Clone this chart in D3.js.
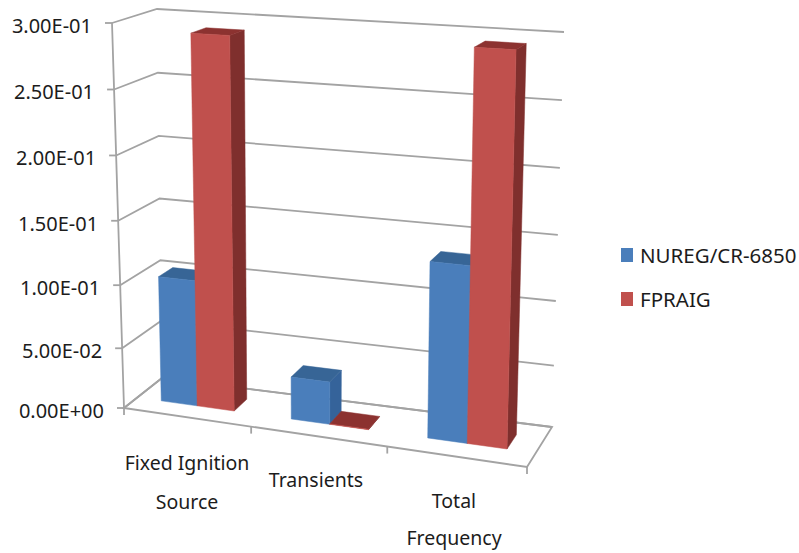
<!DOCTYPE html>
<html>
<head>
<meta charset="utf-8">
<script src="https://cdnjs.cloudflare.com/ajax/libs/d3/7.8.5/d3.min.js"></script>
<style>
  html, body { margin: 0; padding: 0; background: #fff; }
  text { font-family: "Noto Sans", "Open Sans", sans-serif; fill: #1c1c1c; }
</style>
</head>
<body>
<svg id="chart" width="799" height="553"></svg>
<script>
// Chart values
const categories = ["Fixed Ignition Source", "Transients", "Total Frequency"];
const seriesNames = ["NUREG/CR-6850", "FPRAIG"];
const nuregValues = [0.102, 0.035, 0.136];
const fpraigValues = [0.2915, 0.0004, 0.294];
const valueTicks = [0, 0.05, 0.10, 0.15, 0.20, 0.25, 0.30];
const tickLabels = ["0.00E+00", "5.00E-02", "1.00E-01", "1.50E-01", "2.00E-01", "2.50E-01", "3.00E-01"];
const categoryLines = [["Fixed Ignition", "Source"], ["Transients"], ["Total", "Frequency"]];

const seriesValues = [nuregValues, fpraigValues];
const seriesColors = [
  { front: "#4a7ebb", side: "#35639a", top: "#376596" },
  { front: "#c0504d", side: "#7f2f2d", top: "#8c3230" }
];
const gridColor = "#a3a3a3";

const svg = d3.select("#chart");

// Corners of the 3D plot box on screen (front/back, left/right, floor/ceiling)
const box = {
  floor: { fl: [124, 408], fr: [527, 467], bl: [162, 378], br: [552, 427] },
  ceil:  { fl: [112, 23],  fr: [537, 49],  bl: [157, 9],   br: [564, 32] }
};

// Data-to-box scales: both the height and the category run show slight perspective
const heightScale = d3.scalePow().exponent(1.04).domain([0, 0.3]).range([0, 1]);
const acrossScale = d3.scalePow().exponent(1.05).domain([0, 1]).range([0, 1]);
const categoryBand = d3.scaleBand().domain(d3.range(categories.length)).range([0, 1])
  .paddingInner(0.43).paddingOuter(0.205);
const seriesBand = d3.scaleBand().domain(d3.range(seriesNames.length)).range([0, categoryBand.bandwidth()]);
const depthFront = 0.35, depthBack = 0.71;

const lerp = (a, b, t) => [a[0] + (b[0] - a[0]) * t, a[1] + (b[1] - a[1]) * t];

// Trilinear projection: u across categories, w into the depth, h up the value axis
function project(u, w, h) {
  const a = acrossScale(u);
  const floorPt = lerp(lerp(box.floor.fl, box.floor.fr, a), lerp(box.floor.bl, box.floor.br, a), w);
  const ceilPt = lerp(lerp(box.ceil.fl, box.ceil.fr, a), lerp(box.ceil.bl, box.ceil.br, a), w);
  return lerp(floorPt, ceilPt, h);
}

const path = d3.line();
const polygon = pts => path(pts) + "Z";

// Gridlines along the side wall and back wall
const grid = svg.append("g").attr("fill", "none").attr("stroke", gridColor).attr("stroke-width", 1.8);
valueTicks.forEach(v => {
  const h = heightScale(v);
  grid.append("path").attr("d", path([project(0, 0, h), project(0, 1, h), project(1, 1, h)]));
  const p = project(0, 0, h);
  grid.append("path").attr("d", path([[p[0] - 7, p[1]], p]));
});

// Value axis, floor edges and category ticks
grid.append("path").attr("d", path([project(0, 0, 0), project(0, 0, 1)]));
grid.append("path").attr("d", polygon([project(0, 0, 0), project(1, 0, 0), project(1, 1, 0), project(0, 1, 0)]));
d3.range(categories.length + 1).forEach(i => {
  const p = project(i / categories.length, 0, 0);
  grid.append("path").attr("d", path([p, [p[0], p[1] + 7]]));
});

// Bars: side and top faces first, front face over them
const bars = svg.append("g");
categories.forEach((_, c) => {
  seriesNames.forEach((_, s) => {
    const u0 = categoryBand(c) + seriesBand(s);
    const u1 = u0 + seriesBand.bandwidth();
    const h = heightScale(seriesValues[s][c]);
    const col = seriesColors[s];
    const face = (pts, fill) => bars.append("path").attr("d", polygon(pts))
      .attr("fill", fill).attr("stroke", fill).attr("stroke-width", 0.5);
    face([project(u1, depthFront, 0), project(u1, depthBack, 0), project(u1, depthBack, h), project(u1, depthFront, h)], col.side);
    face([project(u0, depthFront, h), project(u1, depthFront, h), project(u1, depthBack, h), project(u0, depthBack, h)], col.top);
    face([project(u0, depthFront, 0), project(u1, depthFront, 0), project(u1, depthFront, h), project(u0, depthFront, h)], col.front);
  });
});

// Value labels beside the axis
svg.append("g").selectAll("text").data(valueTicks).join("text")
  .attr("x", v => project(0, 0, heightScale(v))[0] - 20)
  .attr("y", v => project(0, 0, heightScale(v))[1] + 10)
  .attr("text-anchor", "end")
  .attr("font-size", 20)
  .text((v, i) => tickLabels[i]);

// Category labels
const categoryCenters = [187, 316, 454];
const categoryBaselines = [[470, 509], [487], [508, 545]];
const labels = svg.append("g").attr("font-size", 19.5);
categoryLines.forEach((lines, c) => {
  lines.forEach((line, l) => {
    labels.append("text").attr("x", categoryCenters[c]).attr("y", categoryBaselines[c][l])
      .attr("text-anchor", "middle").text(line);
  });
});

// Legend
const legendY = d3.scalePoint().domain(seriesNames).range([263, 307]);
const legend = svg.append("g").selectAll("g").data(seriesNames).join("g")
  .attr("transform", d => `translate(621,${legendY(d)})`);
legend.append("rect").attr("x", 0).attr("y", -15).attr("width", 12).attr("height", 14)
  .attr("fill", (d, i) => seriesColors[i].front);
legend.append("text").attr("x", 19).attr("y", 0).attr("font-size", 20.5).text(d => d);
</script>
</body>
</html>
